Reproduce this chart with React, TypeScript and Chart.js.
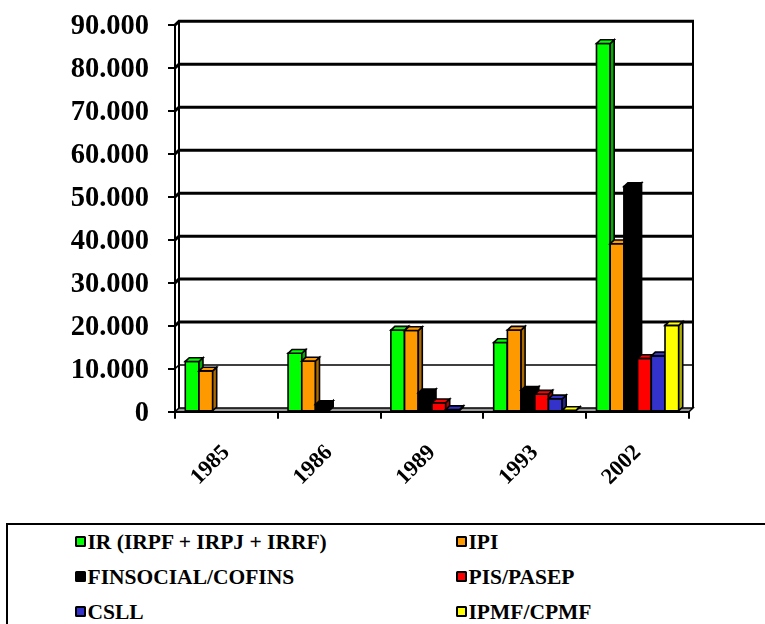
import React, { useEffect, useRef } from "react";
import { Chart, registerables } from "chart.js";

Chart.register(...registerables);

// Arrecadação por tributo (valores em R$ milhões)
const categories = ["1985", "1986", "1989", "1993", "2002"];
const seriesNames = [
  "IR (IRPF + IRPJ + IRRF)",
  "IPI",
  "FINSOCIAL/COFINS",
  "PIS/PASEP",
  "CSLL",
  "IPMF/CPMF",
];
const irValues = [11700, 13600, 19000, 16100, 85700];
const ipiValues = [9500, 11800, 18900, 19000, 39100];
const cofinsValues = [null, 1700, 4400, 5000, 52400];
const pisValues = [null, null, 2100, 4100, 12400];
const csllValues = [null, null, 500, 3000, 13000];
const cpmfValues = [null, null, null, 300, 20100];
const seriesColors = ["#00ff00", "#ff9900", "#000000", "#ff0000", "#3333cc", "#ffff00"];
const yMax = 90000;
const yStep = 10000;

const seriesValues = [irValues, ipiValues, cofinsValues, pisValues, csllValues, cpmfValues];

const FONT = '"Liberation Serif", "Times New Roman", serif';
// depth offset of the 3D box (towards the back wall)
const DX = 4;
const DY = -3.7;

function formatThousands(v: number): string {
  return String(Math.round(v)).replace(/\B(?=(\d{3})+(?!\d))/g, ".");
}

function shade(hex: string, f: number): string {
  const n = parseInt(hex.slice(1), 16);
  const r = Math.round(((n >> 16) & 255) * f);
  const g = Math.round(((n >> 8) & 255) * f);
  const b = Math.round((n & 255) * f);
  return `rgb(${r},${g},${b})`;
}

// Back wall with gridlines, side wall and floor
const wallPlugin = {
  id: "wall3d",
  beforeDatasetsDraw(chart: any) {
    const { ctx, chartArea, scales } = chart;
    const y = scales.y;
    const { left, right } = chartArea;
    const y0 = y.getPixelForValue(0);
    const yTop = y.getPixelForValue(yMax);
    ctx.save();
    ctx.strokeStyle = "#000";
    ctx.lineCap = "butt";
    // gridlines on the back wall
    for (let v = yStep; v <= yMax; v += yStep) {
      const py = y.getPixelForValue(v);
      ctx.lineWidth = v === yStep ? 1.6 : 3;
      ctx.beginPath();
      ctx.moveTo(left, py);
      ctx.lineTo(left + DX, py + DY);
      ctx.lineTo(right + DX + 1, py + DY);
      ctx.stroke();
    }
    // wall edges
    ctx.lineWidth = 2;
    ctx.beginPath();
    ctx.moveTo(left + DX, y0 + DY);
    ctx.lineTo(left + DX, yTop + DY);
    ctx.moveTo(right + DX, y0 + DY);
    ctx.lineTo(right + DX, yTop + DY);
    ctx.stroke();
    // floor
    ctx.beginPath();
    ctx.moveTo(left, y0);
    ctx.lineTo(right, y0);
    ctx.lineTo(right + DX, y0 + DY);
    ctx.lineTo(left + DX, y0 + DY);
    ctx.closePath();
    ctx.fillStyle = "#9a9a9a";
    ctx.fill();
    ctx.lineWidth = 1.5;
    ctx.stroke();
    ctx.restore();
  },
};

// Boxes drawn over the bar elements: front face, right side and top
const boxPlugin = {
  id: "box3d",
  afterDatasetsDraw(chart: any) {
    const { ctx } = chart;
    ctx.save();
    ctx.strokeStyle = "#000";
    ctx.lineWidth = 1.6;
    ctx.lineJoin = "miter";
    chart.data.datasets.forEach((ds: any, di: number) => {
      const meta = chart.getDatasetMeta(di);
      if (meta.hidden) return;
      const color = seriesColors[di];
      meta.data.forEach((el: any, i: number) => {
        if (ds.data[i] == null) return;
        const { x, y, base, width } = el.getProps(["x", "y", "base", "width"], true);
        const l = x - width / 2;
        const r = x + width / 2;
        const t = Math.min(y, base);
        const b = Math.max(y, base);
        // front
        ctx.fillStyle = color;
        ctx.beginPath();
        ctx.rect(l, t, r - l, b - t);
        ctx.fill();
        ctx.stroke();
        // side
        ctx.fillStyle = shade(color, 0.68);
        ctx.beginPath();
        ctx.moveTo(r, t);
        ctx.lineTo(r + DX, t + DY);
        ctx.lineTo(r + DX, b + DY);
        ctx.lineTo(r, b);
        ctx.closePath();
        ctx.fill();
        ctx.stroke();
        // top
        ctx.fillStyle = color;
        ctx.beginPath();
        ctx.moveTo(l, t);
        ctx.lineTo(l + DX, t + DY);
        ctx.lineTo(r + DX, t + DY);
        ctx.lineTo(r, t);
        ctx.closePath();
        ctx.fill();
        ctx.stroke();
      });
    });
    ctx.restore();
  },
};

function LegendItem({ name, color, x, cy }: { name: string; color: string; x: number; cy: number }) {
  return (
    <div
      style={{
        position: "absolute",
        left: x,
        top: cy - 12,
        height: 24,
        display: "flex",
        alignItems: "center",
        whiteSpace: "nowrap",
      }}
    >
      <div
        style={{
          width: 10.5,
          height: 11,
          boxSizing: "border-box",
          border: "2px solid #000",
          borderRadius: 1.5,
          background: color,
          marginRight: 2,
        }}
      />
      <span
        style={{
          display: "inline-block",
          fontFamily: FONT,
          fontWeight: "bold",
          fontSize: 21.5,
          lineHeight: "24px",
          color: "#000",
        }}
      >
        {name}
      </span>
    </div>
  );
}

export default function App() {
  const canvasRef = useRef<HTMLCanvasElement | null>(null);

  useEffect(() => {
    const canvas = canvasRef.current;
    if (!canvas) return;
    const chart = new Chart(canvas, {
      type: "bar",
      data: {
        labels: categories,
        datasets: seriesNames.map((name, i) => ({
          label: name,
          data: seriesValues[i],
          backgroundColor: seriesColors[i],
          borderWidth: 0,
          categoryPercentage: 0.8,
          barPercentage: 1.0,
        })),
      },
      options: {
        responsive: false,
        animation: false,
        layout: { padding: { top: 25, right: 76, left: 0, bottom: 0 } },
        plugins: {
          legend: { display: false },
          tooltip: { enabled: false },
        },
        scales: {
          x: {
            offset: true,
            grid: {
              offset: true,
              drawOnChartArea: false,
              drawTicks: true,
              tickLength: 7,
              color: "#000",
              tickColor: "#000",
              lineWidth: 2,
              tickWidth: 2,
            },
            border: { display: true, color: "#000", width: 2 },
            ticks: {
              minRotation: 45,
              maxRotation: 45,
              padding: 21,
              labelOffset: 0,
              color: "#000",
              font: { family: FONT, size: 22.5, weight: "bold" },
            },
            afterFit: (s: any) => {
              s.height = 88.3;
              s.paddingLeft = 0;
              s.paddingRight = 0;
            },
          },
          y: {
            min: 0,
            max: yMax,
            grid: {
              drawOnChartArea: false,
              drawTicks: true,
              tickLength: 7,
              color: "#000",
              tickColor: "#000",
              lineWidth: 2,
              tickWidth: 2,
            },
            border: { display: true, color: "#000", width: 2 },
            ticks: {
              stepSize: yStep,
              padding: 19,
              labelOffset: 2,
              color: "#000",
              font: { family: FONT, size: 28.5, weight: "bold" },
              callback: (v: any) => formatThousands(Number(v)),
            },
            afterFit: (s: any) => {
              s.width = 175;
              s.paddingTop = 0;
              s.paddingBottom = 0;
            },
          },
        },
      },
      plugins: [wallPlugin, boxPlugin],
    } as any);
    return () => chart.destroy();
  }, []);

  const cols = [75, 456];
  const rows = [541.8, 576.8, 611.8];

  return (
    <div
      style={{
        position: "absolute",
        left: 0,
        top: 0,
        width: 765,
        height: 624,
        overflow: "hidden",
        background: "#fff",
      }}
    >
      <canvas ref={canvasRef} width={765} height={500} style={{ position: "absolute", left: 0, top: 0 }} />
      <div
        style={{
          position: "absolute",
          left: 6,
          top: 523,
          width: 820,
          height: 140,
          boxSizing: "border-box",
          border: "2.5px solid #000",
        }}
      />
      {seriesNames.map((name, i) => (
        <LegendItem
          key={name}
          name={name}
          color={seriesColors[i]}
          x={cols[i % 2]}
          cy={rows[Math.floor(i / 2)]}
        />
      ))}
    </div>
  );
}
